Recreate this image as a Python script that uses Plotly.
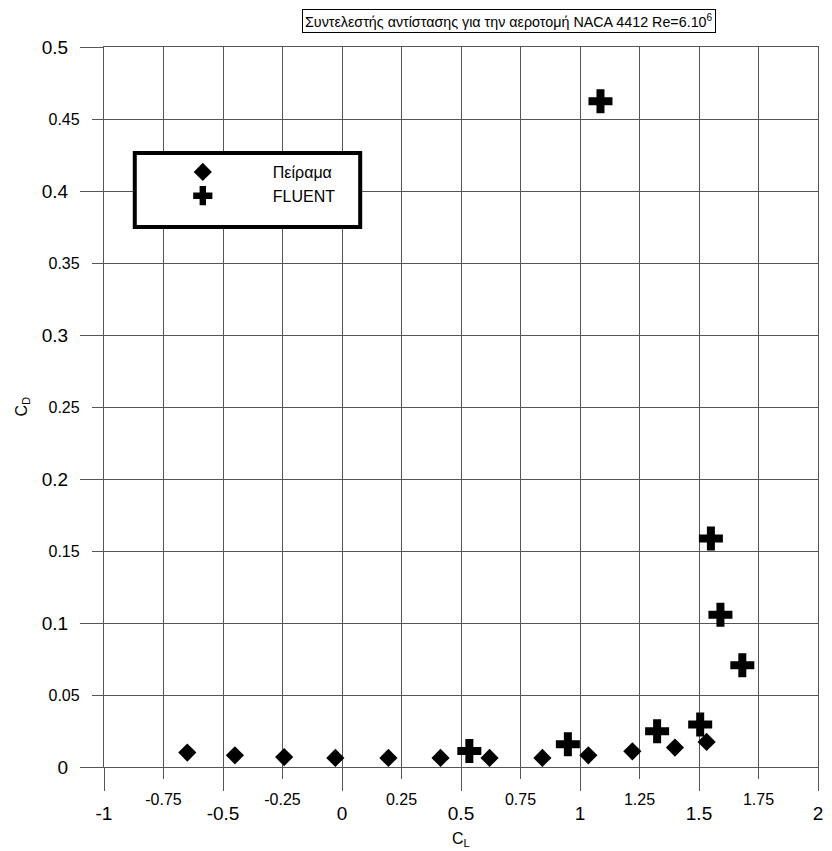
import plotly.graph_objects as go

# Data
exp_cl = [-0.65, -0.45, -0.243, -0.028, 0.195, 0.414, 0.62, 0.842, 1.035, 1.22, 1.399, 1.532]
exp_cd = [0.0100, 0.0081, 0.0069, 0.0063, 0.0063, 0.0063, 0.0063, 0.0063, 0.0081, 0.0109, 0.0135, 0.0174]

cfd_cl = [0.535, 0.949, 1.324, 1.505, 1.55, 1.59, 1.682, 1.086]
cfd_cd = [0.0111, 0.0158, 0.0248, 0.0295, 0.1586, 0.1058, 0.0706, 0.4623]

x_major = [-1, -0.5, 0, 0.5, 1, 1.5, 2]
x_major_text = ["-1", "-0.5", "0", "0.5", "1", "1.5", "2"]
x_minor = [-0.75, -0.25, 0.25, 0.75, 1.25, 1.75]
x_minor_text = ["-0.75", "-0.25", "0.25", "0.75", "1.25", "1.75"]
y_major = [0, 0.1, 0.2, 0.3, 0.4, 0.5]
y_major_text = ["0", "0.1", "0.2", "0.3", "0.4", "0.5"]
y_minor = [0.05, 0.15, 0.25, 0.35, 0.45]
y_minor_text = ["0.05", "0.15", "0.25", "0.35", "0.45"]

series_names = ["Πείραμα", "FLUENT"]
title_text = "Συντελεστής αντίστασης για την αεροτομή NACA 4412 Re=6.10<sup>6</sup>"

FONT = "Liberation Sans, Arial, sans-serif"
GRID = "#555555"

W, H = 832, 851
ML, MR, MT, MB = 104, 9, 47, 84
PW, PH = W - ML - MR, H - MT - MB


def px_x(p):
    return (p - ML) / PW


def px_y(p):
    return (H - MB - p) / PH


fig = go.Figure()
fig.add_trace(go.Scatter(x=exp_cl, y=exp_cd, mode="markers", name=series_names[0],
                         marker=dict(symbol="diamond", size=14, color="black")))
fig.add_trace(go.Scatter(x=cfd_cl, y=cfd_cd, mode="markers", name=series_names[1],
                         marker=dict(symbol="cross", size=20, color="black")))
# placeholder so the minor-label axes get drawn
fig.add_trace(go.Scatter(x=[None], y=[None], xaxis="x2", yaxis="y2",
                         showlegend=False, hoverinfo="skip"))

common = dict(zeroline=False, gridcolor=GRID, gridwidth=1.3,
              tickcolor=GRID, tickwidth=1.3, ticks="outside", tickmode="array",
              showline=True, mirror=True, linecolor=GRID, linewidth=1.3)

fig.update_layout(
    width=W, height=H,
    margin=dict(l=ML, r=MR, t=MT, b=MB),
    paper_bgcolor="white", plot_bgcolor="white",
    font=dict(family=FONT, color="black"),
    xaxis=dict(range=[-1, 2], tickvals=x_major, ticktext=x_major_text, ticklen=23,
               tickfont=dict(size=19), showgrid=True, ticklabelstandoff=6, **common),
    xaxis2=dict(range=[-1, 2], overlaying="x", anchor="y", side="bottom",
                tickvals=x_minor, ticktext=x_minor_text, ticklen=11,
                tickfont=dict(size=16), showgrid=True, ticklabelstandoff=7, **common),
    yaxis=dict(range=[0, 0.5], tickvals=y_major, ticktext=y_major_text, ticklen=23,
               tickfont=dict(size=19), showgrid=True, ticklabelstandoff=8, **common),
    yaxis2=dict(range=[0, 0.5], overlaying="y", anchor="x", side="left",
                tickvals=y_minor, ticktext=y_minor_text, ticklen=11,
                tickfont=dict(size=16), showgrid=True, ticklabelstandoff=9, **common),
    legend=dict(x=px_x(133), y=px_y(155), xanchor="left", yanchor="top",
                bgcolor="rgba(0,0,0,0)", borderwidth=0,
                font=dict(size=16, family=FONT), itemwidth=130,
                entrywidth=100),
    showlegend=True,
)

# legend frame
fig.add_shape(type="rect", xref="paper", yref="paper",
              x0=px_x(135), x1=px_x(362), y0=px_y(227), y1=px_y(153),
              line=dict(color="black", width=4), fillcolor="white", layer="above")

fig.add_annotation(text=title_text, xref="paper", yref="paper", x=px_x(512), y=px_y(21),
                   xanchor="center", yanchor="middle", showarrow=False,
                   font=dict(size=14.3, family=FONT), bordercolor="black", borderwidth=1,
                   borderpad=2, bgcolor="white")
fig.add_annotation(text="C<sub>L</sub>", xref="x", yref="paper", x=0.5, y=px_y(839),
                   yanchor="middle", showarrow=False, font=dict(size=16, family=FONT))
fig.add_annotation(text="C<sub>D</sub>", xref="paper", yref="y", x=px_x(21), y=0.25,
                   xanchor="center", showarrow=False, textangle=-90,
                   font=dict(size=16, family=FONT))

fig.write_html("out.html")
